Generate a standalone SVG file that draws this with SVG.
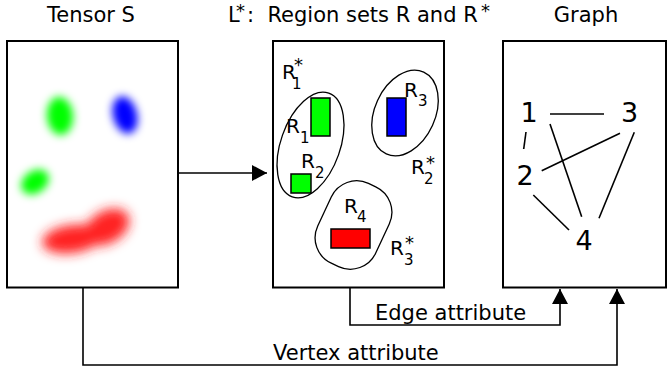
<svg xmlns="http://www.w3.org/2000/svg" width="667" height="371" viewBox="0 0 667 371">
<style>
text{font-family:"DejaVu Sans","Liberation Sans",sans-serif;fill:#000}
.t{font-size:21px}
.r{font-size:20px}
.s{font-size:15px}
.st{font-size:18px}
.n{font-size:27px;text-anchor:middle}
.box{fill:#fff;stroke:#000;stroke-width:2}
.ell{fill:none;stroke:#000;stroke-width:1.3}
.reg{stroke:#000;stroke-width:1.5}
.ln{fill:none;stroke:#000;stroke-width:1.6}
.ge{stroke:#000;stroke-width:1.6}
</style>
<defs>
<filter id="blur" x="-60%" y="-60%" width="220%" height="220%"><feGaussianBlur stdDeviation="4"/></filter>
<filter id="blur2" x="-50%" y="-50%" width="200%" height="200%"><feGaussianBlur stdDeviation="6"/></filter>
<marker id="arrow" viewBox="0 0 15 16" refX="15" refY="8" markerWidth="15" markerHeight="16" markerUnits="userSpaceOnUse" orient="auto"><path d="M0,0 L15,8 L0,16 z" fill="#000"/></marker>
</defs>
<rect width="667" height="371" fill="#fff"/>
<g id="titles">
<text class="t" x="91" y="22" text-anchor="middle">Tensor S</text>
<text class="t" x="228" y="22" xml:space="preserve">L<tspan class="st" x="236" y="17">*</tspan><tspan x="247" y="22">:  Region sets R and R</tspan><tspan class="st" x="481" y="17">*</tspan></text>
<text class="t" x="586" y="22" text-anchor="middle">Graph</text>
</g>
<g id="tensor">
<rect class="box" x="7" y="41" width="171" height="246.5"/>
<g filter="url(#blur)">
<ellipse cx="60" cy="116" rx="13" ry="19" fill="#00ff00" transform="rotate(-5 60 116)"/>
<ellipse cx="125" cy="115" rx="12" ry="19" fill="#0000ff" transform="rotate(-15 125 115)"/>
<ellipse cx="35" cy="182" rx="15" ry="11" fill="#00ff00" transform="rotate(-35 35 182)"/>
</g>
<g filter="url(#blur2)" fill="#ff2020">
<ellipse cx="72" cy="239" rx="30" ry="14" transform="rotate(-8 72 239)"/>
<ellipse cx="107" cy="227" rx="24" ry="16" transform="rotate(-30 107 227)"/>
</g>
</g>
<g id="regions">
<rect class="box" x="273" y="41" width="171" height="246.5"/>
<ellipse class="ell" cx="310.5" cy="145" rx="29.7" ry="55" transform="rotate(19.4 310.5 145)"/>
<ellipse class="ell" cx="405" cy="113" rx="30.2" ry="45" transform="rotate(24.6 405 113)"/>
<rect class="ell" x="321.5" y="181" width="64" height="88" rx="28" transform="rotate(25 353.5 225)"/>
<rect class="reg" x="311" y="98" width="19" height="38" fill="#00ff00"/>
<rect class="reg" x="291" y="174" width="20" height="19" fill="#00ff00"/>
<rect class="reg" x="387" y="98" width="19" height="38" fill="#0000ff"/>
<rect class="reg" x="331" y="229" width="39" height="19" fill="#ff0000"/>
<text class="r" x="282" y="79">R<tspan class="st" x="294" y="71">*</tspan><tspan class="s" x="292" y="89">1</tspan></text>
<text class="r" x="286" y="133">R<tspan class="s" x="300" y="143">1</tspan></text>
<text class="r" x="301" y="168">R<tspan class="s" x="315" y="178">2</tspan></text>
<text class="r" x="404" y="97">R<tspan class="s" x="418" y="106">3</tspan></text>
<text class="r" x="411" y="174">R<tspan class="st" x="426" y="169">*</tspan><tspan class="s" x="424" y="184">2</tspan></text>
<text class="r" x="344" y="213">R<tspan class="s" x="357" y="222">4</tspan></text>
<text class="r" x="390" y="255">R<tspan class="st" x="405" y="249">*</tspan><tspan class="s" x="404" y="265">3</tspan></text>
</g>
<g id="graph">
<rect class="box" x="503" y="41" width="163" height="246.5"/>
<text class="n" x="529" y="122">1</text>
<text class="n" x="629.5" y="122">3</text>
<text class="n" x="525" y="185">2</text>
<text class="n" x="584" y="250">4</text>
<line class="ge" x1="550" y1="114" x2="604" y2="114"/>
<line class="ge" x1="526" y1="132" x2="523.7" y2="149"/>
<line class="ge" x1="541.7" y1="170.7" x2="620" y2="133.3"/>
<line class="ge" x1="550" y1="124" x2="581.7" y2="216.7"/>
<line class="ge" x1="634.3" y1="132.3" x2="599" y2="218.3"/>
<line class="ge" x1="533.3" y1="195" x2="569" y2="230"/>
</g>
<g id="connectors">
<path class="ln" d="M178,173 H267" marker-end="url(#arrow)"/>
<path class="ln" d="M350,288 V325 H560 V289" marker-end="url(#arrow)"/>
<path class="ln" d="M83,288 V365 H617 V289" marker-end="url(#arrow)"/>
<text class="t" x="375" y="320">Edge attribute</text>
<text class="t" x="273" y="360">Vertex attribute</text>
</g>
</svg>
